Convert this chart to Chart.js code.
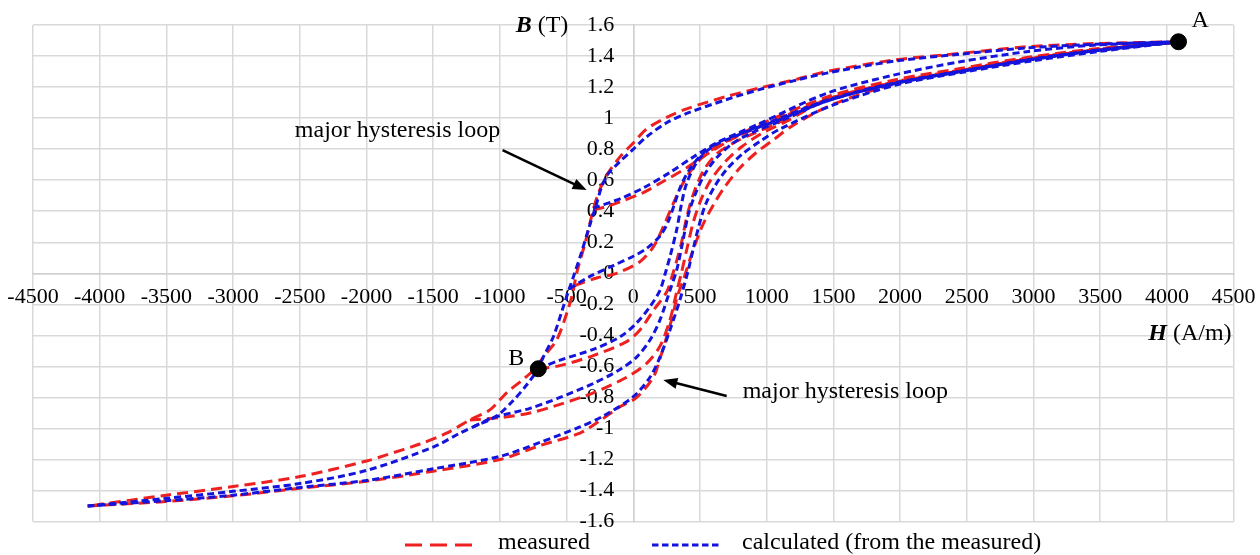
<!DOCTYPE html>
<html>
<head>
<meta charset="utf-8">
<script src="https://cdn.jsdelivr.net/npm/chart.js@4.4.1/dist/chart.umd.min.js"></script>
<style>
html,body{margin:0;padding:0;background:#ffffff;}
#wrap{width:1260px;height:555px;position:relative;}
canvas{display:block;}
</style>
</head>
<body>
<div id="wrap"><canvas id="chart" width="1260" height="555"></canvas></div>
<script>
// ---------- tick values and labels ----------
const xTicks = [-4500,-4000,-3500,-3000,-2500,-2000,-1500,-1000,-500,0,500,1000,1500,2000,2500,3000,3500,4000,4500];
const xTickLabels = ['-4500','-4000','-3500','-3000','-2500','-2000','-1500','-1000','-500','0','500','1000','1500','2000','2500','3000','3500','4000','4500'];
const yTicks = [-1.6,-1.4,-1.2,-1,-0.8,-0.6,-0.4,-0.2,0,0.2,0.4,0.6,0.8,1,1.2,1.4,1.6];
const yTickLabels = ['-1.6','-1.4','-1.2','-1','-0.8','-0.6','-0.4','-0.2','0','0.2','0.4','0.6','0.8','1','1.2','1.4','1.6'];

// ---------- measured curves [H (A/m), B (T)] ----------
const measMajorDesc = [[4087,1.492],[3450,1.48],[2950,1.46],[2450,1.417],[1950,1.374],[1450,1.3],[1200,1.245],[950,1.195],[700,1.14],[400,1.06],[250,1.005],[100,0.93],[0,0.84],[-100,0.75],[-200,0.63],[-260,0.52],[-300,0.41],[-360,0.2],[-425,0],[-455,-0.13],[-500,-0.26],[-575,-0.43],[-675,-0.54],[-730,-0.61],[-820,-0.68],[-950,-0.77],[-1075,-0.88],[-1225,-0.945],[-1400,-1.03],[-1600,-1.1],[-1850,-1.17],[-2000,-1.21],[-2500,-1.31],[-3000,-1.374],[-3500,-1.43],[-4090,-1.5]];
const measMajorAsc = [[-4090,-1.5],[-3500,-1.47],[-3000,-1.434],[-2500,-1.385],[-2000,-1.34],[-1500,-1.275],[-1000,-1.2],[-700,-1.11],[-400,-1.03],[-250,-0.95],[-100,-0.86],[25,-0.8],[150,-0.67],[200,-0.55],[250,-0.41],[290,-0.29],[330,-0.15],[380,-0.03],[440,0.13],[520,0.31],[600,0.44],[680,0.55],[800,0.68],[925,0.78],[1050,0.86],[1200,0.955],[1500,1.09],[2000,1.23],[2500,1.31],[3000,1.385],[3500,1.44],[4087,1.492]];
const measFromB = [[-712,-0.615],[-550,-0.595],[-300,-0.53],[-50,-0.44],[50,-0.365],[150,-0.24],[250,-0.12],[290,-0.02],[325,0.08],[362,0.2],[400,0.36],[450,0.51],[525,0.66],[625,0.77],[750,0.84],[900,0.9],[1100,0.975],[1450,1.115],[1950,1.23],[2450,1.305],[2950,1.38],[3450,1.437],[4087,1.492]];
const measFromLow = [[-1225,-0.945],[-1000,-0.93],[-775,-0.9],[-550,-0.845],[-300,-0.77],[-50,-0.67],[100,-0.58],[200,-0.47],[275,-0.3],[325,-0.12],[360,0],[400,0.15],[450,0.33],[510,0.48],[580,0.6],[690,0.72],[820,0.82],[960,0.9],[1150,0.98],[1450,1.12],[1950,1.228],[2450,1.305],[2950,1.38],[3450,1.437],[4087,1.492]];
const measFromZero = [[-440,-0.08],[-275,-0.03],[-125,0],[50,0.075],[150,0.17],[225,0.3],[300,0.45],[360,0.56],[430,0.66],[520,0.75],[650,0.83],[800,0.89],[1000,0.965],[1450,1.12],[1950,1.232],[2450,1.31],[2950,1.383],[3450,1.44],[4087,1.492]];
const measFromHigh = [[-300,0.41],[-200,0.43],[-100,0.46],[75,0.52],[200,0.58],[400,0.68],[575,0.78],[750,0.87],[950,0.96],[1450,1.135],[1950,1.245],[2450,1.32],[2950,1.39],[3450,1.445],[4087,1.492]];

// ---------- calculated curves [H (A/m), B (T)] ----------
const calcMajorDesc = [[4087,1.492],[3450,1.475],[2950,1.452],[2450,1.412],[1950,1.366],[1450,1.29],[1200,1.24],[950,1.185],[700,1.12],[400,1.03],[250,0.97],[100,0.88],[0,0.8],[-100,0.72],[-190,0.64],[-240,0.55],[-275,0.45],[-330,0.3],[-390,0.13],[-440,0],[-480,-0.1],[-530,-0.23],[-600,-0.41],[-675,-0.54],[-712,-0.615],[-800,-0.72],[-900,-0.82],[-1025,-0.92],[-1175,-0.98],[-1300,-1.03],[-1500,-1.12],[-2000,-1.27],[-2500,-1.355],[-3000,-1.405],[-3500,-1.45],[-4090,-1.5]];
const calcMajorAsc = [[-4090,-1.5],[-3500,-1.465],[-3000,-1.43],[-2500,-1.38],[-2000,-1.335],[-1500,-1.26],[-1000,-1.18],[-700,-1.09],[-400,-0.99],[-225,-0.92],[0,-0.795],[125,-0.67],[200,-0.54],[275,-0.365],[350,-0.17],[412,0.02],[450,0.16],[490,0.3],[540,0.44],[610,0.56],[700,0.67],[820,0.77],[950,0.85],[1100,0.93],[1500,1.085],[2000,1.22],[2500,1.3],[3000,1.37],[3500,1.43],[4087,1.492]];
const calcFromB = [[-712,-0.615],[-550,-0.56],[-300,-0.49],[-100,-0.41],[25,-0.32],[125,-0.215],[200,-0.11],[240,0],[275,0.107],[325,0.28],[362,0.45],[400,0.58],[487,0.73],[600,0.82],[725,0.87],[900,0.93],[1100,0.99],[1450,1.11],[1950,1.222],[2450,1.3],[2950,1.373],[3450,1.433],[4087,1.492]];
const calcFromLow = [[-1200,-0.99],[-1050,-0.93],[-775,-0.87],[-550,-0.8],[-300,-0.71],[-100,-0.62],[25,-0.54],[125,-0.43],[200,-0.3],[275,-0.11],[325,0.02],[370,0.2],[410,0.37],[460,0.5],[530,0.63],[620,0.74],[750,0.84],[900,0.91],[1100,0.98],[1450,1.11],[1950,1.222],[2450,1.3],[2950,1.373],[3450,1.433],[4087,1.492]];
const calcFromZero = [[-480,-0.1],[-325,-0.02],[-150,0.05],[0,0.11],[100,0.16],[200,0.24],[260,0.33],[310,0.45],[360,0.57],[430,0.68],[530,0.78],[650,0.85],[800,0.9],[1000,0.965],[1450,1.115],[1950,1.225],[2450,1.302],[2950,1.375],[3450,1.435],[4087,1.492]];
const calcFromHigh = [[-300,0.42],[-100,0.48],[75,0.55],[275,0.65],[450,0.75],[625,0.84],[775,0.9],[950,0.966],[1450,1.16],[1950,1.277],[2450,1.363],[2950,1.428],[3450,1.47],[4087,1.492]];

// ---------- marked points ----------
const pointA = [4087,1.492];
const pointB = [-712,-0.615];

// ---------- styling ----------
const RED = '#ee2020';
const BLUE = '#1414dc';
const SERIF = '"Liberation Serif", "Times New Roman", serif';

const toPts = a => a.map(p => ({x: p[0], y: p[1]}));
function curve(label, arr, color, dash, order) {
  return {label, data: toPts(arr), showLine: true, borderColor: color, backgroundColor: color,
    borderWidth: 3, borderDash: dash, pointRadius: 0, pointHoverRadius: 0, fill: false,
    tension: 0.3, order};
}
const measDash = [11, 6];
const calcDash = [7, 4];
const datasets = [
  {label: 'A', data: toPts([pointA]), pointRadius: 8, pointBackgroundColor: '#000', pointBorderColor: '#000', showLine: false, order: 0},
  {label: 'B', data: toPts([pointB]), pointRadius: 8, pointBackgroundColor: '#000', pointBorderColor: '#000', showLine: false, order: 0},
  curve('calculated (from the measured)', calcMajorDesc, BLUE, calcDash, 1),
  curve('calculated (from the measured)', calcMajorAsc, BLUE, calcDash, 1),
  curve('calculated (from the measured)', calcFromB, BLUE, calcDash, 1),
  curve('calculated (from the measured)', calcFromLow, BLUE, calcDash, 1),
  curve('calculated (from the measured)', calcFromZero, BLUE, calcDash, 1),
  curve('calculated (from the measured)', calcFromHigh, BLUE, calcDash, 1),
  curve('measured', measMajorDesc, RED, measDash, 2),
  curve('measured', measMajorAsc, RED, measDash, 2),
  curve('measured', measFromB, RED, measDash, 2),
  curve('measured', measFromLow, RED, measDash, 2),
  curve('measured', measFromZero, RED, measDash, 2),
  curve('measured', measFromHigh, RED, measDash, 2)
];

// ---------- annotations (data coordinates) ----------
const notes = [
  {text: 'major hysteresis loop', h: -998, b: 0.88, align: 'right'},
  {text: 'major hysteresis loop', h: 820, b: -0.803, align: 'left'}
];
const arrows = [
  {h1: -980, b1: 0.794, h2: -350, b2: 0.537},
  {h1: 700, b1: -0.79, h2: 225, b2: -0.687}
];

// y tick labels sit 19px left of the centred y axis
const yLabelGap = 19;
const shiftYLabels = {
  id: 'shiftYLabels',
  beforeDraw(chart) {
    const items = chart.scales.y.getLabelItems();
    if (!items._shifted) {
      items.forEach(it => { it.options.translation[0] -= yLabelGap; });
      items._shifted = true;
    }
  }
};

const overlay = {
  id: 'overlay',
  afterDraw(chart) {
    const {ctx, chartArea} = chart;
    const xs = chart.scales.x, ys = chart.scales.y;
    ctx.save();
    ctx.fillStyle = '#000';
    ctx.strokeStyle = '#000';
    ctx.textBaseline = 'alphabetic';
    ctx.font = '24px ' + SERIF;
    notes.forEach(n => {
      ctx.textAlign = n.align;
      ctx.fillText(n.text, xs.getPixelForValue(n.h), ys.getPixelForValue(n.b));
    });
    arrows.forEach(a => {
      const x1 = xs.getPixelForValue(a.h1), y1 = ys.getPixelForValue(a.b1);
      const x2 = xs.getPixelForValue(a.h2), y2 = ys.getPixelForValue(a.b2);
      const ang = Math.atan2(y2 - y1, x2 - x1);
      const hl = 14, hw = 5.5;
      ctx.lineWidth = 2.6;
      ctx.beginPath();
      ctx.moveTo(x1, y1);
      ctx.lineTo(x2 - Math.cos(ang) * (hl - 2), y2 - Math.sin(ang) * (hl - 2));
      ctx.stroke();
      ctx.beginPath();
      ctx.moveTo(x2, y2);
      ctx.lineTo(x2 - Math.cos(ang) * hl - Math.sin(ang) * hw, y2 - Math.sin(ang) * hl + Math.cos(ang) * hw);
      ctx.lineTo(x2 - Math.cos(ang) * hl + Math.sin(ang) * hw, y2 - Math.sin(ang) * hl - Math.cos(ang) * hw);
      ctx.closePath();
      ctx.fill();
    });
    // point labels
    ctx.textAlign = 'left';
    ctx.fillText('A', xs.getPixelForValue(pointA[0]) + 13, ys.getPixelForValue(pointA[1]) - 15);
    ctx.fillText('B', xs.getPixelForValue(pointB[0]) - 30, ys.getPixelForValue(pointB[1]) - 4);
    // axis titles
    const x0 = xs.getPixelForValue(0);
    const yTop = ys.getPixelForValue(1.6);
    ctx.font = 'bold italic 24px ' + SERIF;
    const wB = ctx.measureText('B').width;
    ctx.font = '24px ' + SERIF;
    const wT = ctx.measureText(' (T)').width;
    const bxEnd = x0 - 65;
    ctx.font = 'bold italic 24px ' + SERIF;
    ctx.fillText('B', bxEnd - wT - wB, yTop + 7);
    ctx.font = '24px ' + SERIF;
    ctx.fillText(' (T)', bxEnd - wT, yTop + 7);
    const yZero = ys.getPixelForValue(0);
    ctx.font = 'bold italic 24px ' + SERIF;
    const wH = ctx.measureText('H').width;
    ctx.font = '24px ' + SERIF;
    const wU = ctx.measureText(' (A/m)').width;
    const hxEnd = chartArea.right - 2;
    ctx.font = 'bold italic 24px ' + SERIF;
    ctx.fillText('H', hxEnd - wU - wH, yZero + 67);
    ctx.font = '24px ' + SERIF;
    ctx.fillText(' (A/m)', hxEnd - wU, yZero + 67);
    // legend
    const ly = chartArea.bottom + 23.5;
    ctx.lineWidth = 3;
    ctx.strokeStyle = RED;
    ctx.setLineDash([17, 8]);
    ctx.beginPath(); ctx.moveTo(405, ly); ctx.lineTo(477, ly); ctx.stroke();
    ctx.strokeStyle = BLUE;
    ctx.setLineDash([6.5, 3.5]);
    ctx.beginPath(); ctx.moveTo(652, ly); ctx.lineTo(720, ly); ctx.stroke();
    ctx.setLineDash([]);
    ctx.fillStyle = '#000';
    ctx.fillText('measured', 498, ly + 3.5);
    ctx.fillText('calculated (from the measured)', 742, ly + 3.5);
    ctx.restore();
  }
};

const zeroScalePadding = s => { s.paddingLeft = 0; s.paddingRight = 0; s.paddingTop = 0; s.paddingBottom = 0; };

new Chart(document.getElementById('chart'), {
  type: 'scatter',
  data: {datasets},
  options: {
    responsive: false,
    animation: false,
    devicePixelRatio: 1,
    layout: {padding: {left: 33, right: 26.4, top: 25, bottom: 33.4}},
    plugins: {legend: {display: false}, tooltip: {enabled: false}},
    events: [],
    scales: {
      x: {
        type: 'linear', position: {y: 0}, min: -4500, max: 4500,
        afterBuildTicks: ax => { ax.ticks = xTicks.map(v => ({value: v})); },
        afterFit: zeroScalePadding,
        ticks: {autoSkip: false, maxRotation: 0, minRotation: 0, padding: 11, color: '#000',
          font: {family: SERIF, size: 22}, callback: (v, i) => xTickLabels[i]},
        grid: {color: '#d9d9d9', lineWidth: 1.5, drawTicks: false},
        border: {display: true, color: '#d0d0d0', width: 1.5}
      },
      y: {
        type: 'linear', position: {x: 0}, min: -1.6, max: 1.6,
        afterBuildTicks: ax => { ax.ticks = yTicks.map(v => ({value: v})); },
        afterFit: zeroScalePadding,
        ticks: {autoSkip: false, padding: 0, color: '#000',
          font: {family: SERIF, size: 22}, callback: (v, i) => yTickLabels[i]},
        grid: {color: '#d9d9d9', lineWidth: 1.5, drawTicks: false},
        border: {display: true, color: '#d0d0d0', width: 1.5}
      }
    }
  },
  plugins: [shiftYLabels, overlay]
});
</script>
</body>
</html>
